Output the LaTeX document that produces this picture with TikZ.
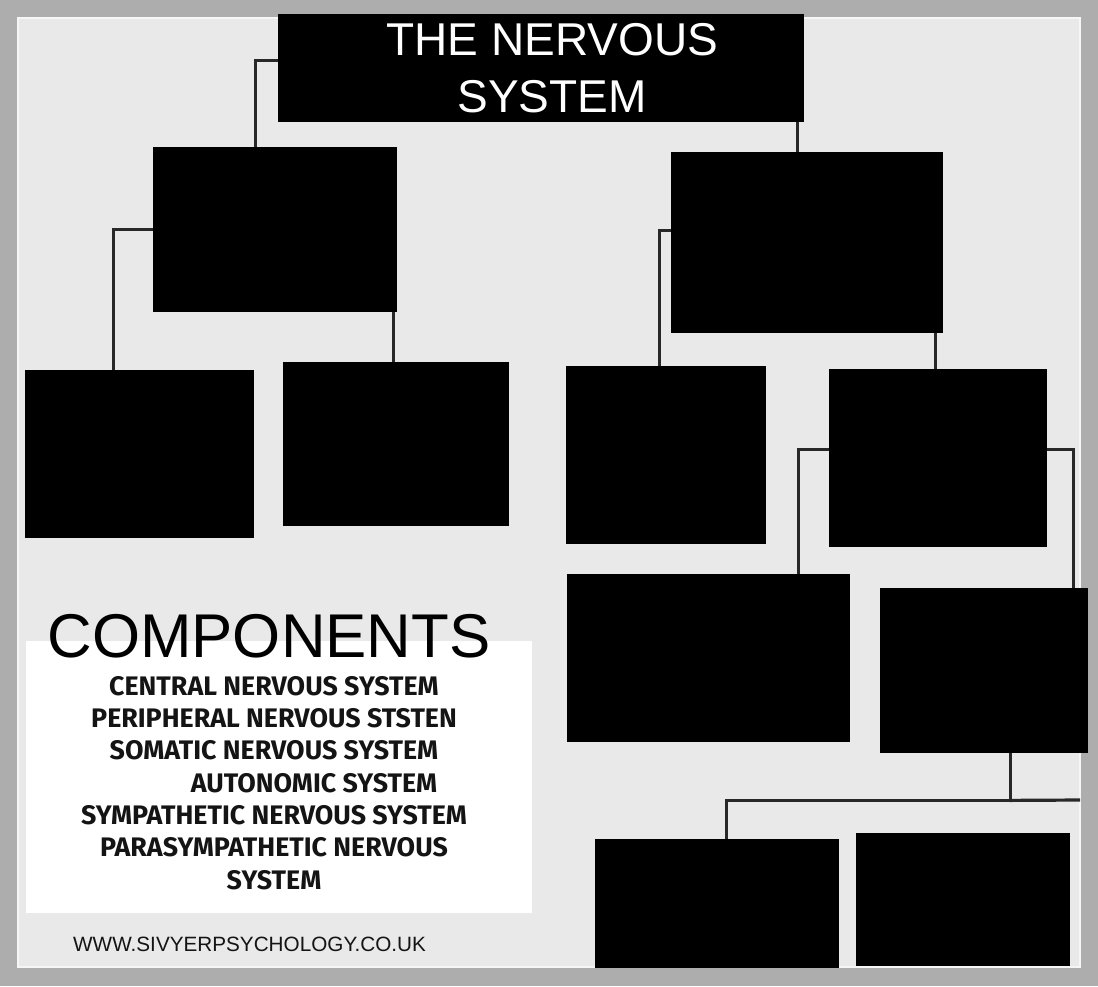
\documentclass[tikz,border=0pt]{standalone}
\usepackage{fontspec}
\setmainfont{Liberation Sans}
\newfontfamily\listfont{Fira Sans}
\usepackage{xcolor}
\usepackage{tikz}
\usetikzlibrary{positioning, calc, backgrounds}
\definecolor{NSFrame}{RGB}{173, 173, 173}
\definecolor{NSPanel}{RGB}{233, 233, 233}
\definecolor{NSLine}{RGB}{40, 40, 40}
\definecolor{NSText}{RGB}{20, 20, 20}

\tikzset{
  blankbox/.style={fill=black, inner sep=0pt, anchor=north west},
  link/.style={NSLine, line width=3.2pt},
}

\begin{document}
\begin{tikzpicture}[x=1pt,y=-1pt]
  \path[use as bounding box] (0,0) rectangle (1098,986);
  \begin{scope}[on background layer]
    \fill[NSFrame] (0,0) rectangle (1098,986);
    \fill[NSPanel] (18,18) rectangle (1080,967);
    \draw[white!60!NSPanel, line width=1.5pt] (18,18) rectangle (1080,967);
  \end{scope}

  % title
  \node[blankbox, minimum width=526pt, minimum height=108pt] (title) at (278,14) {};
  \node[white, align=center, inner sep=0pt, font=\fontsize{46}{57}\selectfont] (titletext)
    at ([xshift=11pt]title.center) {THE NERVOUS\\SYSTEM};

  % blanked boxes
  \node[blankbox, minimum width=244pt, minimum height=165pt] (cns) at (153,147) {};
  \node[blankbox, minimum width=272pt, minimum height=181pt] (pns) at (671,152) {};
  \node[blankbox, minimum width=229pt, minimum height=168pt] (brain) at (25,370) {};
  \node[blankbox, minimum width=226pt, minimum height=164pt] (spine) at (283,362) {};
  \node[blankbox, minimum width=200pt, minimum height=178pt] (somatic) at (566,366) {};
  \node[blankbox, minimum width=218pt, minimum height=178pt] (autonomic) at (829,369) {};
  \node[blankbox, minimum width=283pt, minimum height=168pt] (autoLeft) at (567,574) {};
  \node[blankbox, minimum width=208pt, minimum height=165pt] (autoRight) at (880,588) {};
  \node[blankbox, minimum width=244pt, minimum height=129pt] (subLeft) at (595,839) {};
  \node[blankbox, minimum width=214pt, minimum height=133pt] (subRight) at (856,833) {};

  % connectors
  \coordinate (titleDrop) at ([xshift=-7pt]title.south east);
  \coordinate (spineTop) at ([xshift=-3pt]spine.north);
  \coordinate (autoTop) at ([xshift=-3pt]autonomic.north);
  \coordinate (subJoin) at ([xshift=26pt,yshift=-47pt]autoRight.south);
  \coordinate (subEdge) at (1080,800);
  \begin{scope}[on background layer]
    \draw[link] ([yshift=8pt]title.west) -| ([xshift=-20pt]cns.north);
    \draw[link] (titleDrop) -- (titleDrop |- pns.north);
    \draw[link] (cns.west) -| ([xshift=-26.5pt]brain.north);
    \draw[link] (spineTop) -- (spineTop |- cns.south);
    \draw[link] ([yshift=12.5pt]pns.west) -| ([xshift=-7pt]somatic.north);
    \draw[link] (autoTop) -- (autoTop |- pns.south);
    \draw[link] ([yshift=9pt]autonomic.west) -| ([xshift=89.5pt]autoLeft.north);
    \draw[link] ([yshift=9pt]autonomic.east) -| ([xshift=89pt]autoRight.north);
    \draw[link] ([xshift=26pt]autoRight.south) -- (subJoin);
    \draw[link] (subJoin) -| ([xshift=9pt]subLeft.north);
    \draw[link] (subJoin) -- (subEdge);
  \end{scope}

  % components list
  \fill[white] (26,641) rectangle (532,913);
  \node[anchor=base, inner sep=0pt, font=\fontsize{61.8}{62}\selectfont] (comptitle)
    at (269,657) {COMPONENTS};
  \node[anchor=north, align=center, inner sep=0pt, NSText,
        font=\listfont\bfseries\fontsize{26.8}{32.3}\selectfont] (complist) at (274,676) {
    CENTRAL NERVOUS SYSTEM\\
    PERIPHERAL NERVOUS STSTEN\\
    SOMATIC NERVOUS SYSTEM\\
    \hspace*{80pt}AUTONOMIC SYSTEM\\
    SYMPATHETIC NERVOUS SYSTEM\\
    PARASYMPATHETIC NERVOUS\\
    SYSTEM
  };
  \node[anchor=base west, inner sep=0pt, NSText, font=\fontsize{20.7}{24}\selectfont] (website)
    at (73,951) {WWW.SIVYERPSYCHOLOGY.CO.UK};
\end{tikzpicture}
\end{document}
